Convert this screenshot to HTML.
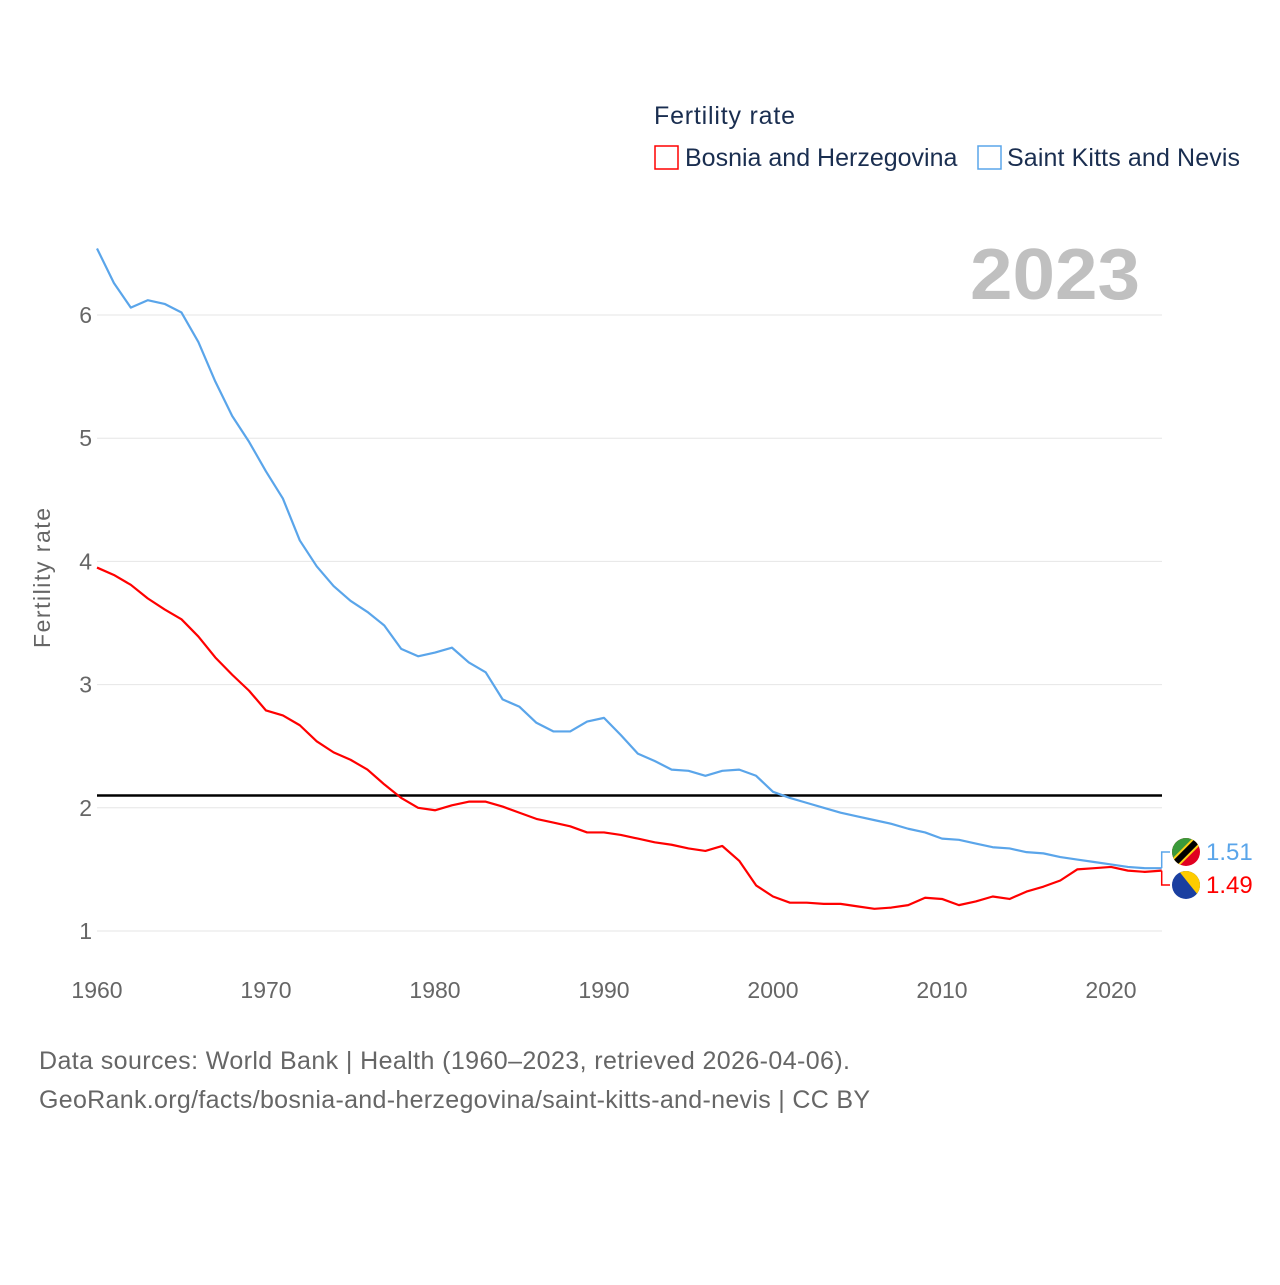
<!DOCTYPE html>
<html><head><meta charset="utf-8"><style>
body{margin:0;background:#fff;font-family:"Liberation Sans",sans-serif;}
svg text{font-family:"Liberation Sans",sans-serif;}
</style></head><body>
<svg id="chart" width="1280" height="1280" viewBox="0 0 1280 1280" xmlns="http://www.w3.org/2000/svg">
<rect width="1280" height="1280" fill="#fff"/>
<g id="legend">
<text x="654" y="124" font-size="25" fill="#1a2e50" textLength="141">Fertility rate</text>
<rect x="655" y="146" width="23" height="23" fill="none" stroke="#ff0000" stroke-width="1.5"/>
<text x="685" y="166" font-size="25" fill="#1a2e50">Bosnia and Herzegovina</text>
<rect x="978" y="146" width="23" height="23" fill="none" stroke="#5aa5ea" stroke-width="1.5"/>
<text x="1007" y="166" font-size="25" fill="#1a2e50" textLength="233">Saint Kitts and Nevis</text>
</g>
<text x="970" y="299" font-size="72" font-weight="bold" fill="#c0c0c0" textLength="170" lengthAdjust="spacingAndGlyphs">2023</text>
<text transform="translate(50,578) rotate(-90)" font-size="23" fill="#666" text-anchor="middle" textLength="140">Fertility rate</text>
<g id="grid"></g><g id="series"></g><g id="ends"></g>
<text x="39" y="1069" font-size="25" fill="#666" textLength="811">Data sources: World Bank | Health (1960–2023, retrieved 2026-04-06).</text>
<text x="39" y="1108" font-size="25" fill="#666" textLength="831">GeoRank.org/facts/bosnia-and-herzegovina/saint-kitts-and-nevis | CC BY</text>
</svg>
<script>
const years=[];for(let y=1960;y<=2023;y++)years.push(y);
const kittsValues=[6.54,6.26,6.06,6.12,6.09,6.02,5.78,5.46,5.18,4.97,4.73,4.51,4.17,3.96,3.80,3.68,3.59,3.48,3.29,3.23,3.26,3.30,3.18,3.10,2.88,2.82,2.69,2.62,2.62,2.70,2.73,2.59,2.44,2.38,2.31,2.30,2.26,2.30,2.31,2.26,2.13,2.08,2.04,2.00,1.96,1.93,1.90,1.87,1.83,1.80,1.75,1.74,1.71,1.68,1.67,1.64,1.63,1.60,1.58,1.56,1.54,1.52,1.51,1.51];
const bosniaValues=[3.95,3.89,3.81,3.70,3.61,3.53,3.39,3.22,3.08,2.95,2.79,2.75,2.67,2.54,2.45,2.39,2.31,2.19,2.08,2.00,1.98,2.02,2.05,2.05,2.01,1.96,1.91,1.88,1.85,1.80,1.80,1.78,1.75,1.72,1.70,1.67,1.65,1.69,1.57,1.37,1.28,1.23,1.23,1.22,1.22,1.20,1.18,1.19,1.21,1.27,1.26,1.21,1.24,1.28,1.26,1.32,1.36,1.41,1.50,1.51,1.52,1.49,1.48,1.49];
const yTicks=[1,2,3,4,5,6];
const xTicks=[1960,1970,1980,1990,2000,2010,2020];
const replacementRate=2.1;
const NS="http://www.w3.org/2000/svg";
const X0=97,X1=1161.7,Y1v=931,Y6v=315;
const xs=y=>X0+(y-1960)*(X1-X0)/(2023-1960);
const ys=v=>Y1v-(v-1)*(Y1v-Y6v)/5;
function mk(tag,attrs,parent){const e=document.createElementNS(NS,tag);for(const k in attrs)e.setAttribute(k,attrs[k]);parent.appendChild(e);return e;}
const grid=document.getElementById('grid');
yTicks.forEach(t=>{
 const l=mk('line',{x1:97,x2:1162,y1:ys(t),y2:ys(t),stroke:'#e6e6e6','stroke-width':1},grid);
 
 
 const tx=mk('text',{x:92,y:ys(t)+8,'font-size':23,fill:'#666','text-anchor':'end'},grid);tx.textContent=t;
 
 
});
xTicks.forEach(t=>{
 const tx=mk('text',{x:xs(t),y:998,'font-size':23,fill:'#666','text-anchor':'middle'},grid);tx.textContent=t;
 
 
});
const ser=document.getElementById('series');
const ref=mk('line',{x1:97,x2:1162,y1:ys(replacementRate),y2:ys(replacementRate),stroke:'#000','stroke-width':2.5},ser);


function line(vals,color,name){
 const p=mk('polyline',{points:vals.map((v,i)=>xs(years[i])+','+ys(v)).join(' '),fill:'none',stroke:color,'stroke-width':2.2,'stroke-linejoin':'round'},ser);
 
 
}
line(kittsValues,'#5aa5ea','line-saint-kitts');
line(bosniaValues,'#ff0000','line-bosnia');
const ends=document.getElementById('ends');
const kLast=kittsValues[kittsValues.length-1],bLast=bosniaValues[bosniaValues.length-1];
const kx=xs(2023),ky=ys(kLast),by=ys(bLast);
mk('polyline',{points:`${kx},${ky} ${kx},852 1170,852`,fill:'none',stroke:'#5aa5ea','stroke-width':1.5},ends);
mk('polyline',{points:`${kx},${by} ${kx},885 1170,885`,fill:'none',stroke:'#ff0000','stroke-width':1.5},ends);
const fk=mk('g',{},ends);


const cp1=mk('clipPath',{id:'c1'},fk);mk('circle',{cx:1186,cy:852,r:14},cp1);
const gk=mk('g',{'clip-path':'url(#c1)'},fk);
mk('rect',{x:1170,y:836,width:32,height:32,fill:'#e00020'},gk);
mk('polygon',{points:'1170,836 1202,836 1170,868',fill:'#3a9a3a'},gk);
mk('line',{x1:1172,y1:866,x2:1200,y2:838,stroke:'#fcd116','stroke-width':10},gk);
mk('line',{x1:1172,y1:866,x2:1200,y2:838,stroke:'#000','stroke-width':6},gk);
const fb=mk('g',{},ends);


const cp2=mk('clipPath',{id:'c2'},fb);mk('circle',{cx:1186,cy:885,r:14},cp2);
const gb=mk('g',{'clip-path':'url(#c2)'},fb);
mk('rect',{x:1170,y:869,width:32,height:32,fill:'#1a3fa0'},gb);
mk('polygon',{points:'1178,870 1202,870 1202,900',fill:'#fecb00'},gb);
const t1=mk('text',{x:1206,y:860,'font-size':24,fill:'#5aa5ea'},ends);t1.textContent=kLast.toFixed(2);


const t2=mk('text',{x:1206,y:893,'font-size':24,fill:'#ff0000'},ends);t2.textContent=bLast.toFixed(2);


</script>
</body></html>
